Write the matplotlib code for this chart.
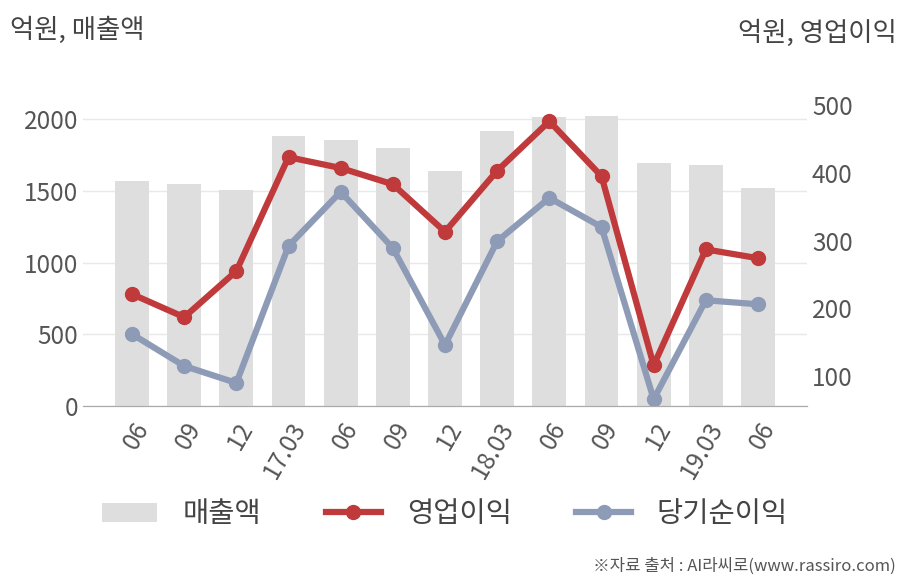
import numpy as np
import matplotlib.pyplot as plt

plt.rcParams['font.family'] = ['Noto Sans CJK KR', 'DejaVu Sans']

labels = ['06', '09', '12', '17.03', '06', '09', '12', '18.03', '06', '09', '12', '19.03', '06']
sales = [1568, 1547, 1505, 1882, 1854, 1798, 1638, 1916, 2014, 2021, 1693, 1679, 1519]
op_profit = [221, 187, 255, 423, 407, 383, 313, 403, 476, 395, 116, 287, 274]
net_profit = [162, 115, 90, 292, 372, 289, 146, 299, 363, 320, 66, 212, 206]

fig = plt.figure(figsize=(9.08, 5.8), dpi=100)
ax = fig.add_axes([0.0914, 0.3, 0.7974, 0.519])
ax2 = ax.twinx()

x = np.arange(len(labels))
bars = ax.bar(x, sales, width=0.65, color='#dedede', zorder=1, label='매출액')
ax.set_ylim(0, 2100)
ax.set_yticks([0, 500, 1000, 1500, 2000])
ax.set_xlim(-0.94, len(labels) - 0.06)
ax.grid(axis='y', color='#e8e8e8', linewidth=1)
ax.set_axisbelow(True)

l1, = ax2.plot(x, op_profit, color='#c0393b', linewidth=4.5, marker='o', markersize=10, label='영업이익', zorder=3)
l2, = ax2.plot(x, net_profit, color='#8e9bb7', linewidth=4.5, marker='o', markersize=10, label='당기순이익', zorder=2)
ax2.set_ylim(56, 500)
ax2.set_yticks([100, 200, 300, 400, 500])

for a in (ax, ax2):
    for s in ['top', 'left', 'right']:
        a.spines[s].set_visible(False)
    a.spines['bottom'].set_color('#aaaaaa')
    a.tick_params(length=0, labelsize=17.5, labelcolor='#555555')

ax.set_xticks(x)
ax.set_xticklabels(labels, rotation=60, ha='right', rotation_mode='anchor')
ax.tick_params(axis='x', pad=8)

fig.text(0.011, 0.948, '억원, 매출액', fontsize=19, color='#444444', ha='left', va='center')
fig.text(0.988, 0.942, '억원, 영업이익', fontsize=19, color='#444444', ha='right', va='center')

fig.legend([bars, l1, l2], ['매출액', '영업이익', '당기순이익'], loc='center', bbox_to_anchor=(0.490, 0.113),
           ncol=3, frameon=False, fontsize=20.5, handlelength=1.95, columnspacing=2.25, handletextpad=0.9,
           labelcolor='#444444')

fig.text(0.986, 0.023, '※자료 출처 : AI라씨로(www.rassiro.com)', fontsize=12, color='#555555', ha='right', va='center')

plt.savefig('out.png', dpi=100)
